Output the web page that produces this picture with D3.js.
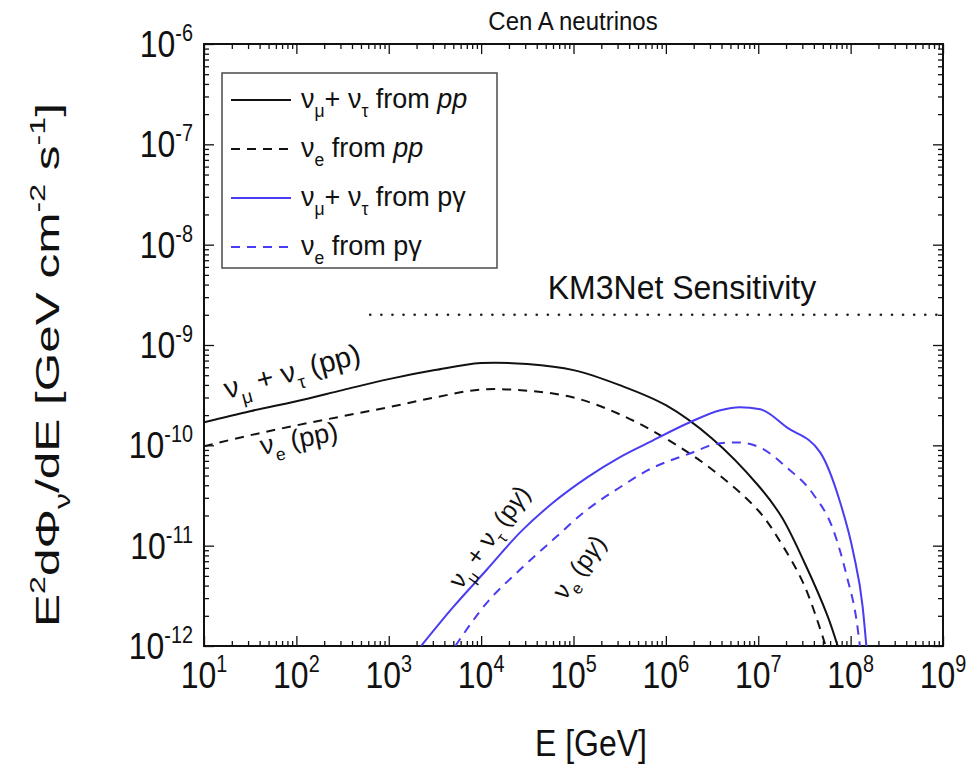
<!DOCTYPE html>
<html><head><meta charset="utf-8">
<script src="https://cdn.jsdelivr.net/npm/d3@7"></script>
<style>
body{margin:0;background:#fff}
svg{display:block}
text{font-family:"Liberation Sans",Arial,Helvetica,sans-serif;fill:#111}
</style>
</head><body>
<svg id="chart" width="978" height="767"></svg>
<script>
// ---------------- data ----------------
const xTickExps = [1, 2, 3, 4, 5, 6, 7, 8, 9];
const yTickExps = [-6, -7, -8, -9, -10, -11, -12];

// nu_mu + nu_tau from pp (black solid)
const ppMuE    = [10, 31.6, 100, 316, 1e3, 3.16e3, 1e4, 3.16e4, 1e5, 3.16e5, 1e6, 3.16e6, 1e7, 1.78e7, 3.16e7, 5.62e7, 7.24e7];
const ppMuFlux = [1.70e-10, 2.19e-10, 2.75e-10, 3.55e-10, 4.57e-10, 5.62e-10, 6.61e-10, 6.46e-10, 5.62e-10, 3.98e-10, 2.51e-10, 1.17e-10, 3.98e-11, 1.95e-11, 6.8e-12, 2.0e-12, 1.0e-12];

// nu_e from pp (black dashed)
const ppEE    = [10, 31.6, 100, 316, 1e3, 3.16e3, 1e4, 3.16e4, 1e5, 3.16e5, 1e6, 3.16e6, 1e7, 1.78e7, 3.16e7, 5.37e7];
const ppEFlux = [9.8e-11, 1.26e-10, 1.58e-10, 1.95e-10, 2.4e-10, 3.0e-10, 3.6e-10, 3.5e-10, 3.0e-10, 2.04e-10, 1.17e-10, 5.75e-11, 2.24e-11, 1.05e-11, 4.0e-12, 1.0e-12];

// nu_mu + nu_tau from p-gamma (blue solid)
const pgMuE    = [2.24e3, 5.0e3, 1.15e4, 2.63e4, 6.03e4, 1.41e5, 3.16e5, 6.31e5, 1.82e6, 3.89e6, 6.31e6, 1.05e7, 2.04e7, 4.68e7, 7.59e7, 1.07e8, 1.35e8, 1.48e8];
const pgMuFlux = [1.0e-12, 2.45e-12, 5.75e-12, 1.35e-11, 2.69e-11, 4.79e-11, 7.59e-11, 1.05e-10, 1.70e-10, 2.24e-10, 2.40e-10, 2.29e-10, 1.51e-10, 8.5e-11, 2.82e-11, 8.5e-12, 2.45e-12, 1.0e-12];

// nu_e from p-gamma (blue dashed)
const pgEE    = [5.25e3, 1.15e4, 2.63e4, 6.03e4, 1.41e5, 3.16e5, 6.31e5, 1.82e6, 3.89e6, 5.89e6, 1.05e7, 2.04e7, 3.89e7, 6.46e7, 9.12e7, 1.17e8, 1.26e8];
const pgEFlux = [1.0e-12, 2.69e-12, 5.75e-12, 1.15e-11, 2.29e-11, 3.80e-11, 5.62e-11, 8.3e-11, 1.05e-10, 1.07e-10, 9.5e-11, 6.0e-11, 3.31e-11, 1.45e-11, 4.9e-12, 1.7e-12, 1.0e-12];

// KM3Net sensitivity (dotted)
const km3E    = [6.3e2, 1e9];
const km3Flux = [2e-9, 2e-9];

const legendLabels = [
  [["ν"],["μ","sub"],["+ ν"],["τ","sub"],[" from "],["pp","it"]],
  [["ν"],["e","sub"],[" from "],["pp","it"]],
  [["ν"],["μ","sub"],["+ ν"],["τ","sub"],[" from pγ"]],
  [["ν"],["e","sub"],[" from pγ"]]
];

// ---------------- layout ----------------
const L = 204, R = 943, T = 44, B = 646;
const BLUE = "#4a3cf0";
const svg = d3.select("#chart");
const x = d3.scaleLog().domain([1e1, 1e9]).range([L, R]);
const y = d3.scaleLog().domain([1e-12, 1e-6]).range([B, T]);

function rich(parent, px, py, parts, o) {
  const g = parent.append("g")
    .attr("transform", `translate(${px},${py}) rotate(${o.rot || 0}) scale(${o.sx || 1},${o.sy || 1})`);
  const t = g.append("text").attr("font-size", o.size).attr("text-anchor", o.anchor || "start");
  let cur = 0;
  const small = o.small || 0.65;
  parts.forEach(p => {
    const kind = p[1] || "n";
    let target = 0, fs = o.size;
    if (kind === "sup") { target = -0.42 * o.size; fs = o.size * small; }
    if (kind === "sub") { target = 0.32 * o.size; fs = o.size * small; }
    const ts = t.append("tspan").text(p[0]).attr("font-size", fs).attr("dy", target - cur);
    if (kind === "it") ts.attr("font-style", "italic");
    cur = target;
  });
  return g;
}

// clip
svg.append("defs").append("clipPath").attr("id", "clip")
  .append("rect").attr("x", L).attr("y", T).attr("width", R - L).attr("height", B - T);

// ---------------- axes / ticks ----------------
const minorX = [], majorX = xTickExps.map(e => Math.pow(10, e));
for (let e = 1; e < 9; e++) for (let k = 2; k <= 9; k++) minorX.push(k * Math.pow(10, e));
const minorY = [], majorY = yTickExps.map(e => Math.pow(10, e));
for (let e = -12; e < -6; e++) for (let k = 2; k <= 9; k++) minorY.push(k * Math.pow(10, e));

function axisPair(gen, vals, size, transform) {
  const g = svg.append("g").attr("transform", transform)
    .call(gen.tickValues(vals).tickSize(size).tickFormat(""));
  g.select(".domain").remove();
  g.selectAll("line").attr("stroke", "#111").attr("stroke-width", 1.3);
}
axisPair(d3.axisBottom(x), majorX, -10, `translate(0,${B})`);
axisPair(d3.axisBottom(x), minorX, -5, `translate(0,${B})`);
axisPair(d3.axisTop(x), majorX, -10, `translate(0,${T})`);
axisPair(d3.axisTop(x), minorX, -5, `translate(0,${T})`);
axisPair(d3.axisLeft(y), majorY, -10, `translate(${L},0)`);
axisPair(d3.axisLeft(y), minorY, -5, `translate(${L},0)`);
axisPair(d3.axisRight(y), majorY, -10, `translate(${R},0)`);
axisPair(d3.axisRight(y), minorY, -5, `translate(${R},0)`);

svg.append("rect").attr("x", L).attr("y", T).attr("width", R - L).attr("height", B - T)
  .attr("fill", "none").attr("stroke", "#111").attr("stroke-width", 2);

// tick labels
xTickExps.forEach(e => {
  rich(svg, x(Math.pow(10, e)), 688, [["10"], [String(e), "sup"]], {size: 32, anchor: "middle", sy: 1.18, small: 0.62});
});
yTickExps.forEach(e => {
  rich(svg, 193, y(Math.pow(10, e)) + 13, [["10"], [String(e), "sup"]], {size: 32, anchor: "end", sy: 1.18, small: 0.62});
});

// titles
rich(svg, 573, 30, [["Cen A neutrinos"]], {size: 24, anchor: "middle", sy: 1.1});
rich(svg, 591, 756, [["E [GeV]"]], {size: 32, anchor: "middle", sy: 1.18});
rich(svg, 59, 365,
  [["E"], ["2", "sup"], ["dΦ"], ["ν", "sub"], ["/dE [GeV cm"], ["-2", "sup"], [" s"], ["-1", "sup"], ["]"]],
  {size: 33, anchor: "middle", rot: -90, sx: 1.5});

// ---------------- curves ----------------
const plot = svg.append("g").attr("clip-path", "url(#clip)");
const line = d3.line().x(d => x(d[0])).y(d => y(d[1]));
function series(E, F, color, dash, curve) {
  plot.append("path")
    .attr("d", line.curve(curve)(d3.zip(E, F)))
    .attr("fill", "none").attr("stroke", color).attr("stroke-width", 2)
    .attr("stroke-dasharray", dash);
}
series(ppMuE, ppMuFlux, "#111", null, d3.curveCatmullRom.alpha(0.5));
series(ppEE, ppEFlux, "#111", "9,7", d3.curveCatmullRom.alpha(0.5));
series(pgMuE, pgMuFlux, BLUE, null, d3.curveMonotoneX);
series(pgEE, pgEFlux, BLUE, "9,7", d3.curveMonotoneX);

plot.append("path").attr("d", d3.line().x(d => x(d[0])).y(d => y(d[1]))(d3.zip(km3E, km3Flux)))
  .attr("fill", "none").attr("stroke", "#222").attr("stroke-width", 2.6)
  .attr("stroke-dasharray", "0.1,11").attr("stroke-linecap", "round");
rich(svg, 682, 299, [["KM3Net Sensitivity"]], {size: 32, anchor: "middle", sy: 1.05});

// curve labels
rich(svg, 227, 399, [["ν"], ["μ", "sub"], [" + ν"], ["τ", "sub"], [" (pp)"]], {size: 29, rot: -15});
rich(svg, 262, 455, [["ν"], ["e", "sub"], [" (pp)"]], {size: 27, rot: -11});
rich(svg, 461, 590, [["ν"], ["μ", "sub"], [" + ν"], ["τ", "sub"], [" (p"], ["γ", "it"], [")"]], {size: 25, rot: -54});
rich(svg, 565, 601, [["ν"], ["e", "sub"], [" (p"], ["γ", "it"], [")"]], {size: 25, rot: -54});

// ---------------- legend ----------------
const lg = svg.append("g");
lg.append("rect").attr("x", 222).attr("y", 73).attr("width", 275).attr("height", 195)
  .attr("fill", "#fff").attr("stroke", "#555").attr("stroke-width", 1.6);
const legendStyles = [["#111", null], ["#111", "9,7"], [BLUE, null], [BLUE, "9,7"]];
const rowY = d3.scaleLinear().domain([0, 3]).range([100, 247]);
legendLabels.forEach((parts, i) => {
  const yy = rowY(i);
  lg.append("line").attr("x1", 231).attr("x2", 291).attr("y1", yy).attr("y2", yy)
    .attr("stroke", legendStyles[i][0]).attr("stroke-width", 2).attr("stroke-dasharray", legendStyles[i][1]);
  rich(lg, 301, yy + 8, parts, {size: 27, sy: 1.05});
});
</script>
</body></html>
